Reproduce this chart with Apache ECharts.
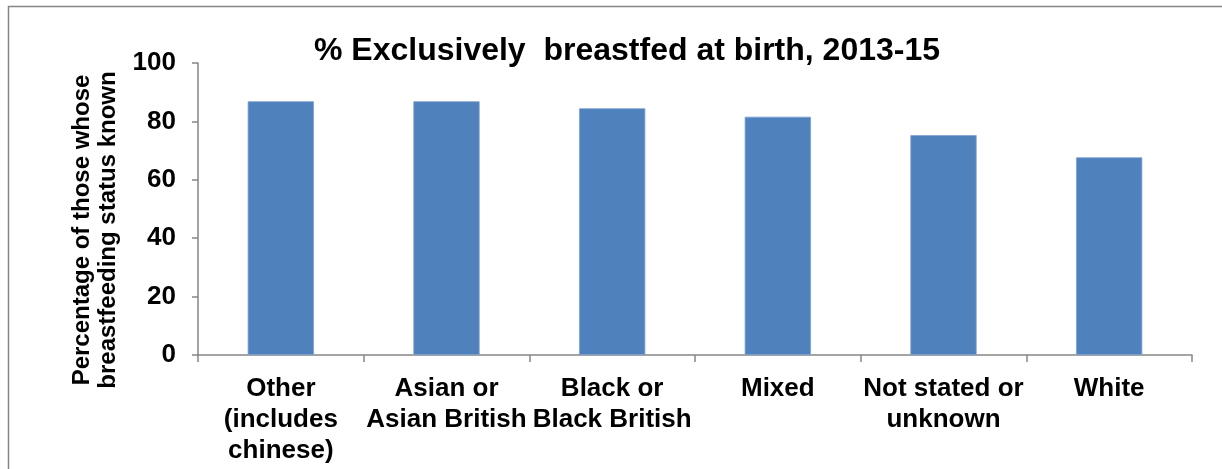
<!DOCTYPE html>
<html>
<head>
<meta charset="utf-8">
<script src="https://cdn.jsdelivr.net/npm/echarts@6/dist/echarts.min.js"></script>
<style>
html,body{margin:0;padding:0;background:#fff;}
#chart{width:1222px;height:469px;}
</style>
</head>
<body>
<div id="chart"></div>
<script>
const categories = ["Other\n(includes\nchinese)", "Asian or\nAsian British", "Black or\nBlack British", "Mixed", "Not stated or\nunknown", "White"];
const values = [86.9, 86.9, 84.5, 81.6, 75.3, 67.7];
const yTicks = [0, 20, 40, 60, 80, 100];
const titleText = "% Exclusively  breastfed at birth, 2013-15";
const yAxisName = "Percentage of those whose\nbreastfeeding status known";

const chart = echarts.init(document.getElementById('chart'), null, {renderer: 'canvas'});
const font = "'Liberation Sans', Arial, sans-serif";
chart.setOption({
  animation: false,
  backgroundColor: '#fff',
  title: {
    text: titleText,
    left: 622, top: 30, textAlign: 'center',
    textStyle: {fontFamily: font, fontWeight: 'bold', fontSize: 32, color: '#000'}
  },
  graphic: [{
    type: 'rect', shape: {x: 8.5, y: 6.5, width: 1240, height: 500},
    style: {fill: 'none', stroke: '#868686', lineWidth: 1.5}, silent: true
  }],
  grid: {left: 198, right: 30, top: 63, bottom: 114, containLabel: false},
  xAxis: {
    type: 'category',
    data: categories,
    axisLine: {lineStyle: {color: '#868686', width: 1.5}},
    axisTick: {show: true, alignWithLabel: false, length: 7, lineStyle: {color: '#868686', width: 1.5}},
    axisLabel: {interval: 0, margin: 18, lineHeight: 31, fontFamily: font, fontWeight: 'bold', fontSize: 26, color: '#000'}
  },
  yAxis: {
    type: 'value', min: yTicks[0], max: yTicks[yTicks.length - 1], interval: 20,
    name: yAxisName, nameLocation: 'middle', nameGap: 74, nameRotate: 90,
    nameTextStyle: {fontFamily: font, fontWeight: 'bold', fontSize: 24, color: '#000', lineHeight: 26, padding: [0, 42, 0, 0]},
    axisLine: {show: true, lineStyle: {color: '#868686', width: 1.5}},
    axisTick: {show: true, length: 6, lineStyle: {color: '#868686', width: 1.5}},
    splitLine: {show: false},
    axisLabel: {margin: 22, fontFamily: font, fontWeight: 'bold', fontSize: 26, color: '#000'}
  },
  series: [{
    type: 'bar',
    data: values,
    barWidth: '40%',
    itemStyle: {color: '#4f81bd', borderColor: '#7fa3d0', borderWidth: 0.8}
  }]
});
</script>
</body>
</html>
